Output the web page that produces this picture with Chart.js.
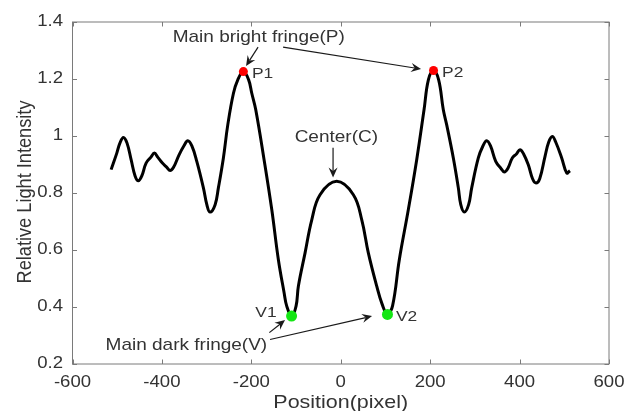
<!DOCTYPE html>
<html>
<head>
<meta charset="utf-8">
<script src="https://cdn.jsdelivr.net/npm/chart.js@4/dist/chart.umd.min.js"></script>
<style>
  html, body { margin: 0; padding: 0; background: #fff; }
  #wrap { width: 626px; height: 411px; }
</style>
</head>
<body>
<div id="wrap"><canvas id="fringeChart" width="626" height="411"></canvas></div>
<script>
// intensity profile across the fringe pattern
const positions = [
  -513.6, -500.9, -494.0, -486.1, -478.0, -468.9, -460.0, -452.6, -445.0, -435.4,
  -425.0, -416.8, -409.0, -398.9, -389.0, -381.7, -374.0, -361.6, -351.0, -342.1,
  -333.0, -322.0, -307.2, -299.5, -292.3, -281.0, -273.7, -262.5, -252.7, -240.0,
  -230.3, -217.8, -206.0, -199.0, -190.1, -171.5, -154.3, -139.5, -126.8, -120.8,
  -110.0, -100.0, -94.8, -79.8, -64.8, -46.3, -9.0, 28.2, 47.0, 61.7,
  80.5, 92.5, 104.5, 116.0, 131.0, 151.2, 169.9, 186.3, 196.0, 207.5,
  219.0, 229.4, 237.0, 251.8, 263.0, 268.5, 276.4, 286.0, 292.9, 307.7,
  318.0, 326.5, 335.0, 346.6, 358.0, 365.8, 374.0, 383.7, 393.0, 400.9,
  409.0, 419.5, 429.0, 436.7, 445.0, 456.8, 465.0, 473.2, 481.0, 494.2,
  505.4, 512.7
];
const intensity = [
  0.882, 0.940, 0.975, 0.995, 0.975, 0.917, 0.860, 0.843, 0.860, 0.905,
  0.925, 0.940, 0.925, 0.905, 0.890, 0.879, 0.890, 0.934, 0.965, 0.983,
  0.965, 0.911, 0.818, 0.759, 0.733, 0.759, 0.818, 0.923, 1.039, 1.150,
  1.197, 1.226, 1.197, 1.150, 1.092, 0.917, 0.742, 0.566, 0.451, 0.403,
  0.368, 0.403, 0.473, 0.590, 0.706, 0.794, 0.841, 0.794, 0.706, 0.590,
  0.473, 0.410, 0.374, 0.405, 0.566, 0.742, 0.917, 1.092, 1.197, 1.230,
  1.197, 1.092, 1.039, 0.923, 0.818, 0.759, 0.733, 0.759, 0.818, 0.923,
  0.965, 0.983, 0.965, 0.911, 0.887, 0.874, 0.887, 0.923, 0.937, 0.952,
  0.937, 0.899, 0.850, 0.835, 0.850, 0.928, 0.978, 0.998, 0.978, 0.923,
  0.870, 0.878
];

// main bright fringes (P1, P2) and main dark fringes (V1, V2)
const peakNames = ['P1', 'P2'];
const peakX = [-217.8, 207.5];
const peakY = [1.226, 1.230];
const valleyNames = ['V1', 'V2'];
const valleyX = [-110.0, 104.5];
const valleyY = [0.368, 0.374];

const xTicks = [-600, -400, -200, 0, 200, 400, 600];
const yTicks = [0.2, 0.4, 0.6, 0.8, 1, 1.2, 1.4];

// callout texts and arrows, in data units
const notes = [
  { text: 'Main bright fringe(P)', x: -183.4, y: 1.347 },
  { text: 'Center(C)', x: -9.8, y: 0.994 },
  { text: 'Main dark fringe(V)', x: -345.3, y: 0.266 }
];
const arrows = [
  [-184.9, 1.312, -211.8, 1.246],
  [-129.0, 1.312, 179.6, 1.235],
  [-17.2, 0.959, -17.2, 0.854],
  [-159.7, 0.310, -124.6, 0.354],
  [-158.1, 0.286, 70.0, 0.368]
];

const FONT = '"Liberation Sans", Arial, Helvetica, sans-serif';
const SX = 1.16;          // glyphs are a little wide in this figure
const TEXT = '#333333';
const AXIS = '#7a7a7a';

function stretchText(ctx, str, x, y, size, align) {
  ctx.save();
  ctx.translate(x, y);
  ctx.scale(SX, 1);
  ctx.font = size + 'px ' + FONT;
  ctx.fillStyle = TEXT;
  ctx.textAlign = align;
  ctx.textBaseline = 'middle';
  ctx.fillText(str, 0, 0);
  ctx.restore();
}

function drawArrow(ctx, x1, y1, x2, y2) {
  const ang = Math.atan2(y2 - y1, x2 - x1);
  const len = 10, half = 4.5, notch = 6.5;
  ctx.save();
  ctx.strokeStyle = '#1a1a1a';
  ctx.fillStyle = '#1a1a1a';
  ctx.lineWidth = 1.2;
  ctx.beginPath();
  ctx.moveTo(x1, y1);
  ctx.lineTo(x2 - Math.cos(ang) * notch, y2 - Math.sin(ang) * notch);
  ctx.stroke();
  ctx.translate(x2, y2);
  ctx.rotate(ang);
  ctx.beginPath();
  ctx.moveTo(0, 0);
  ctx.lineTo(-len, -half);
  ctx.lineTo(-notch, 0);
  ctx.lineTo(-len, half);
  ctx.closePath();
  ctx.fill();
  ctx.restore();
}

// axes box with inward ticks, labels and callouts
const frameAndNotes = {
  id: 'frameAndNotes',
  afterDraw(chart) {
    const ctx = chart.ctx;
    const xs = chart.scales.x, ys = chart.scales.y;
    const a = chart.chartArea;
    const tick = 4.5;

    ctx.save();
    ctx.strokeStyle = AXIS;
    ctx.lineWidth = 1;
    ctx.strokeRect(a.left, a.top, a.right - a.left, a.bottom - a.top);
    ctx.beginPath();
    xTicks.forEach(v => {
      const px = Math.round(xs.getPixelForValue(v)) + 0.5;
      ctx.moveTo(px, a.bottom); ctx.lineTo(px, a.bottom - tick);
      ctx.moveTo(px, a.top); ctx.lineTo(px, a.top + tick);
    });
    yTicks.forEach(v => {
      const py = Math.round(ys.getPixelForValue(v)) + 0.5;
      ctx.moveTo(a.left, py); ctx.lineTo(a.left + tick, py);
      ctx.moveTo(a.right, py); ctx.lineTo(a.right - tick, py);
    });
    ctx.stroke();
    ctx.restore();

    xTicks.forEach(v => stretchText(ctx, String(v), xs.getPixelForValue(v), a.bottom + 19, 16, 'center'));
    yTicks.forEach(v => stretchText(ctx, String(v), a.left - 9.5, ys.getPixelForValue(v), 16, 'right'));

    stretchText(ctx, 'Position(pixel)', (a.left + a.right) / 2, a.bottom + 39, 18.5, 'center');
    ctx.save();
    ctx.translate(25, (a.top + a.bottom) / 2 - 1);
    ctx.scale(SX, 1);
    ctx.rotate(-Math.PI / 2);
    ctx.font = '18.2px ' + FONT;
    ctx.fillStyle = TEXT;
    ctx.textAlign = 'center';
    ctx.textBaseline = 'middle';
    ctx.fillText('Relative Light Intensity', 0, 0);
    ctx.restore();

    notes.forEach(n => stretchText(ctx, n.text, xs.getPixelForValue(n.x), ys.getPixelForValue(n.y), 16.4, 'center'));
    arrows.forEach(r => drawArrow(ctx,
      xs.getPixelForValue(r[0]), ys.getPixelForValue(r[1]),
      xs.getPixelForValue(r[2]), ys.getPixelForValue(r[3])));

    peakNames.forEach((name, i) => {
      const px = xs.getPixelForValue(peakX[i]), py = ys.getPixelForValue(peakY[i]);
      stretchText(ctx, name, px + 8.5, py + 2, 15, 'left');
    });
    stretchText(ctx, valleyNames[0], xs.getPixelForValue(valleyX[0]) - 15, ys.getPixelForValue(valleyY[0]) - 3.5, 15, 'right');
    stretchText(ctx, valleyNames[1], xs.getPixelForValue(valleyX[1]) + 8.5, ys.getPixelForValue(valleyY[1]) + 2.5, 15, 'left');
  }
};

new Chart(document.getElementById('fringeChart').getContext('2d'), {
  type: 'line',
  data: {
    datasets: [
      {
        label: 'peaks',
        type: 'scatter',
        data: peakX.map((x, i) => ({ x, y: peakY[i] })),
        pointRadius: 4.5,
        pointBackgroundColor: '#ff0000',
        pointBorderWidth: 0,
        order: 0
      },
      {
        label: 'valleys',
        type: 'scatter',
        data: valleyX.map((x, i) => ({ x, y: valleyY[i] })),
        pointRadius: 5.5,
        pointBackgroundColor: '#14e614',
        pointBorderWidth: 0,
        order: 0
      },
      {
        label: 'intensity',
        data: positions.map((x, i) => ({ x, y: intensity[i] })),
        borderColor: '#000000',
        borderWidth: 3,
        pointRadius: 0,
        tension: 0.4,
        fill: false,
        order: 1
      }
    ]
  },
  options: {
    responsive: false,
    animation: false,
    devicePixelRatio: 1,
    layout: { padding: { left: 72.5, top: 22, right: 17, bottom: 47 } },
    plugins: { legend: { display: false }, tooltip: { enabled: false } },
    scales: {
      x: { type: 'linear', min: -600, max: 600, display: false },
      y: { type: 'linear', min: 0.2, max: 1.4, display: false }
    }
  },
  plugins: [frameAndNotes]
});
</script>
</body>
</html>
